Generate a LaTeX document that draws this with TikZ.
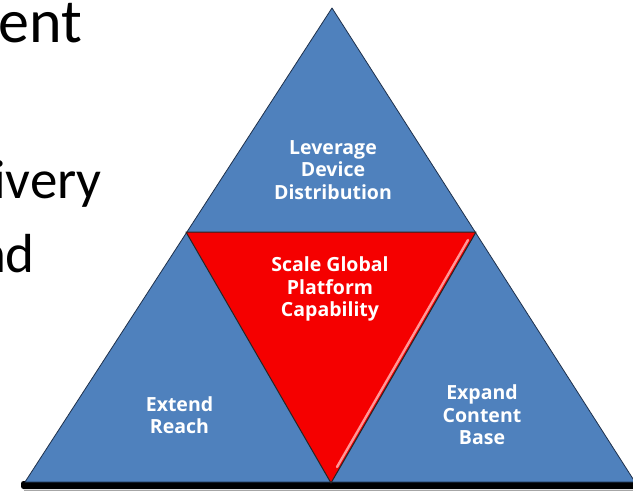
\documentclass[tikz,border=0pt]{standalone}
\usepackage{fontspec}
\setmainfont{Carlito}
\newfontfamily\labelfont{Open Sans}
\definecolor{pyrblue}{RGB}{79,129,189}
\definecolor{pyrlight}{RGB}{112,160,215}
\definecolor{edgeblue}{RGB}{30,48,75}
\definecolor{corered}{RGB}{245,0,0}
\definecolor{corehigh}{RGB}{255,150,150}
\begin{document}
\begin{tikzpicture}[x=1pt,y=-1pt,
  piece/.style={fill=pyrblue, draw=edgeblue, line width=0.8pt, line join=round},
  coreedge/.style={draw=black!85, line width=1pt, line join=round},
  lbl/.style={text=white, font=\labelfont\bfseries\fontsize{19.5}{22.5}\selectfont, align=center, inner sep=0pt},
  slidetext/.style={font=\fontsize{55}{60}\selectfont, inner sep=0pt, anchor=base east}]
\useasboundingbox (0,0) rectangle (633,491);
\fill[white] (0,0) rectangle (633,491);

% corner points of the pyramid and of its red core
\coordinate (apex) at (332,8);
\coordinate (bl) at (25,482);
\coordinate (br) at (635,482);
\coordinate (ml) at (186,232);
\coordinate (mr) at (476,232);
\coordinate (mb) at (331,483);

% slide text running in from the left (heading line is set larger)
\node[slidetext, font=\fontsize{62}{66}\selectfont] (t1) at (82,42) {ent};
\node[slidetext] (t2) at (102,198) {ivery};
\node[slidetext] (t3) at (35,272) {nd};

% ground shadow under the pyramid
\fill[black, rounded corners=2.5pt] (21,481) rectangle (645,489);
\draw[black!35, line width=0.8pt] (24,490.2) -- (645,490.2);

% blue pyramid
\draw[piece] (bl) -- (apex) -- (br) -- cycle;

% light rim of the blue faces along the red core
\draw[pyrlight, line width=1.6pt] (190,238) -- (329,478);

% red core with its bevel highlight
\fill[corered] (ml) -- (mr) -- (mb) -- cycle;
\draw[corehigh, line width=2.4pt, line cap=round] (468,240) -- (337,467);
\draw[coreedge] (ml) -- (mr) -- (mb) -- cycle;

% face labels
\node[lbl] (lev) at (333,170) {Leverage\\Device\\Distribution};
\node[lbl] (core) at (330,289) {Scale Global\\Platform\\Capability};
\node[lbl] (reach) at (179.5,415) {Extend\\Reach};
\node[lbl] (content) at (482,415) {Expand\\Content\\Base};
\end{tikzpicture}
\end{document}
